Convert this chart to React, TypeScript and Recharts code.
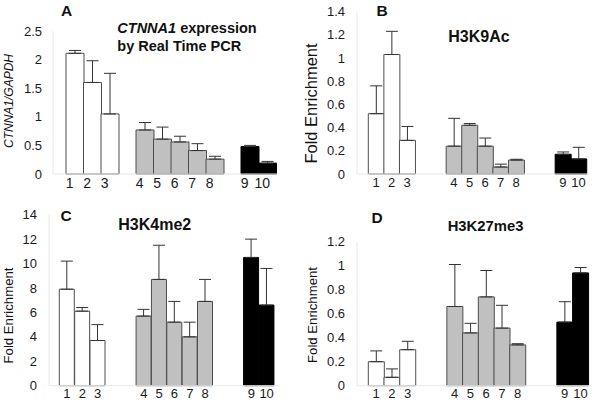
import { BarChart, Bar, Cell, XAxis, YAxis, ErrorBar } from 'recharts';

// samples 1-10, in three groups (white, grey, black)
const sampleLabels = ['1', '2', '3', '4', '5', '6', '7', '8', '9', '10'];
const sampleGroup = [0, 0, 0, 1, 1, 1, 1, 1, 2, 2];

// A: CTNNA1/GAPDH by real time PCR
const ctnna1Mean = [2.11, 1.6, 1.05, 0.77, 0.61, 0.56, 0.41, 0.26, 0.48, 0.19];
const ctnna1Sd = [0.05, 0.38, 0.71, 0.13, 0.21, 0.1, 0.12, 0.05, 0.02, 0.03];
const ctnna1Ticks = [0, 0.5, 1, 1.5, 2, 2.5];

// B: H3K9Ac
const h3k9acMean = [0.52, 1.03, 0.29, 0.24, 0.42, 0.24, 0.06, 0.12, 0.17, 0.13];
const h3k9acSd = [0.24, 0.2, 0.12, 0.24, 0.015, 0.07, 0.025, 0.007, 0.02, 0.1];
const h3k9acTicks = [0, 0.2, 0.4, 0.6, 0.8, 1, 1.2, 1.4];

// C: H3K4me2
const h3k4me2Mean = [7.9, 6.1, 3.7, 5.7, 8.7, 5.2, 4.0, 6.9, 10.5, 6.6];
const h3k4me2Sd = [2.3, 0.3, 1.3, 0.55, 2.8, 1.7, 1.2, 1.8, 1.5, 3.0];
const h3k4me2Ticks = [0, 2, 4, 6, 8, 10, 12, 14];

// D: H3K27me3
const h3k27me3Mean = [0.2, 0.07, 0.3, 0.66, 0.44, 0.74, 0.48, 0.34, 0.53, 0.94];
const h3k27me3Sd = [0.09, 0.07, 0.07, 0.35, 0.08, 0.22, 0.19, 0.01, 0.17, 0.045];
const h3k27me3Ticks = [0, 0.2, 0.4, 0.6, 0.8, 1, 1.2];

const FONT = "Arial, 'Liberation Sans', Helvetica, sans-serif";
const groupFill = ['#ffffff', '#c0c0c0', '#000000'];
const groupStroke = ['#4d4d4d', '#4d4d4d', '#000000'];

type Row = { label: string; mean: number | null; err: number[] | null; group: number };

// empty slots between the groups
function buildRows(means: number[], sds: number[], gap: number): Row[] {
  const rows: Row[] = [];
  means.forEach((m, i) => {
    if (i > 0 && sampleGroup[i] !== sampleGroup[i - 1]) {
      for (let g = 0; g < gap; g++) rows.push({ label: '', mean: null, err: null, group: -1 });
    }
    rows.push({ label: sampleLabels[i], mean: m, err: [0, sds[i]], group: sampleGroup[i] });
  });
  return rows;
}

type PanelProps = {
  rows: Row[];
  left: number;
  top: number;
  width: number;
  height: number;
  margin: { top: number; right: number; bottom: number; left: number };
  yWidth: number;
  xHeight: number;
  pad: { left: number; right: number };
  ticks: number[];
  xFont: number;
  xDx: number;
  xMargin: number;
  yMargin: number;
};

const Panel = (p: PanelProps) => {
  const max = p.ticks[p.ticks.length - 1];
  return (
    <div style={{ position: 'absolute', left: p.left, top: p.top }}>
      <BarChart width={p.width} height={p.height} data={p.rows} margin={p.margin} barCategoryGap={0} barGap={0}>
        <XAxis
          dataKey="label"
          interval={0}
          height={p.xHeight}
          padding={p.pad}
          tickLine={false}
          tickSize={0}
          tickMargin={p.xMargin}
          axisLine={{ stroke: '#e8e8e8' }}
          tick={{ fill: '#1a1a1a', fontSize: p.xFont, fontFamily: FONT, dx: p.xDx }}
        />
        <YAxis
          width={p.yWidth}
          domain={[0, max]}
          ticks={p.ticks}
          interval={0}
          tickLine={false}
          tickSize={0}
          tickMargin={p.yMargin}
          axisLine={{ stroke: '#e8e8e8' }}
          tick={{ fill: '#1a1a1a', fontSize: 13, fontFamily: FONT }}
        />
        <Bar dataKey="mean" isAnimationActive={false} strokeWidth={1}>
          {p.rows.map((r, i) => (
            <Cell key={i} fill={groupFill[r.group] ?? '#fff'} stroke={groupStroke[r.group] ?? 'none'} />
          ))}
          <ErrorBar dataKey="err" width={6} stroke="#333" strokeWidth={1} direction="y" />
        </Bar>
      </BarChart>
    </div>
  );
};

const rowsA = buildRows(ctnna1Mean, ctnna1Sd, 1);
const rowsB = buildRows(h3k9acMean, h3k9acSd, 2);
const rowsC = buildRows(h3k4me2Mean, h3k4me2Sd, 2);
const rowsD = buildRows(h3k27me3Mean, h3k27me3Sd, 2);

export default function App() {
  return (
    <div style={{ position: 'absolute', left: 0, top: 0, width: 603, height: 408, background: '#fff', fontFamily: FONT }}>
      <Panel rows={rowsA} left={0} top={0} width={300} height={204}
        margin={{ top: 31, right: 22, bottom: 10, left: 0 }} yWidth={53} xHeight={20}
        pad={{ left: 13, right: 2 }} ticks={ctnna1Ticks} xFont={14} xDx={-5} xMargin={4} yMargin={11} />
      <Panel rows={rowsB} left={300} top={0} width={303} height={204}
        margin={{ top: 11.6, right: 13, bottom: 10, left: 0 }} yWidth={57} xHeight={20}
        pad={{ left: 11.3, right: 3.7 }} ticks={h3k9acTicks} xFont={13} xDx={0} xMargin={4} yMargin={12} />
      <Panel rows={rowsC} left={0} top={204} width={300} height={204}
        margin={{ top: 10.7, right: 22, bottom: 4.3, left: 0 }} yWidth={49} xHeight={18}
        pad={{ left: 10.3, right: 3.7 }} ticks={h3k4me2Ticks} xFont={13} xDx={0} xMargin={3} yMargin={12} />
      <Panel rows={rowsD} left={300} top={204} width={303} height={204}
        margin={{ top: 37.7, right: 12, bottom: 4.3, left: 0 }} yWidth={57} xHeight={18}
        pad={{ left: 11.3, right: 2.7 }} ticks={h3k27me3Ticks} xFont={13} xDx={0} xMargin={3} yMargin={12} />

      <svg width={603} height={408} style={{ position: 'absolute', left: 0, top: 0, pointerEvents: 'none' }} fontFamily={FONT} fill="#111">
        {/* panel letters */}
        <text x={61} y={15.5} fontSize={15.5} fontWeight="bold">A</text>
        <text x={376.5} y={15.5} fontSize={15.5} fontWeight="bold">B</text>
        <text x={60.5} y={220.5} fontSize={15.5} fontWeight="bold">C</text>
        <text x={371.5} y={223} fontSize={15.5} fontWeight="bold">D</text>

        {/* panel titles */}
        <text x={117.3} y={33.3} fontSize={14.5} fontWeight="bold">
          <tspan fontStyle="italic">CTNNA1</tspan> expression
        </text>
        <text x={117.3} y={51} fontSize={14.5} fontWeight="bold">by Real Time PCR</text>
        <text x={448.3} y={41.5} fontSize={16} fontWeight="bold">H3K9Ac</text>
        <text x={118.3} y={229.8} fontSize={16} fontWeight="bold">H3K4me2</text>
        <text x={447.7} y={231} fontSize={14.8} fontWeight="bold">H3K27me3</text>

        {/* y axis titles */}
        <text transform="translate(13,101) rotate(-90)" textAnchor="middle" fontSize={12} fontStyle="italic">CTNNA1/GAPDH</text>
        <text transform="translate(317,103.5) rotate(-90)" textAnchor="middle" fontSize={16.5}>Fold Enrichment</text>
        <text transform="translate(13,315.5) rotate(-90)" textAnchor="middle" fontSize={13.2}>Fold Enrichment</text>
        <text transform="translate(317,315) rotate(-90)" textAnchor="middle" fontSize={13.2}>Fold Enrichment</text>
      </svg>
    </div>
  );
}
